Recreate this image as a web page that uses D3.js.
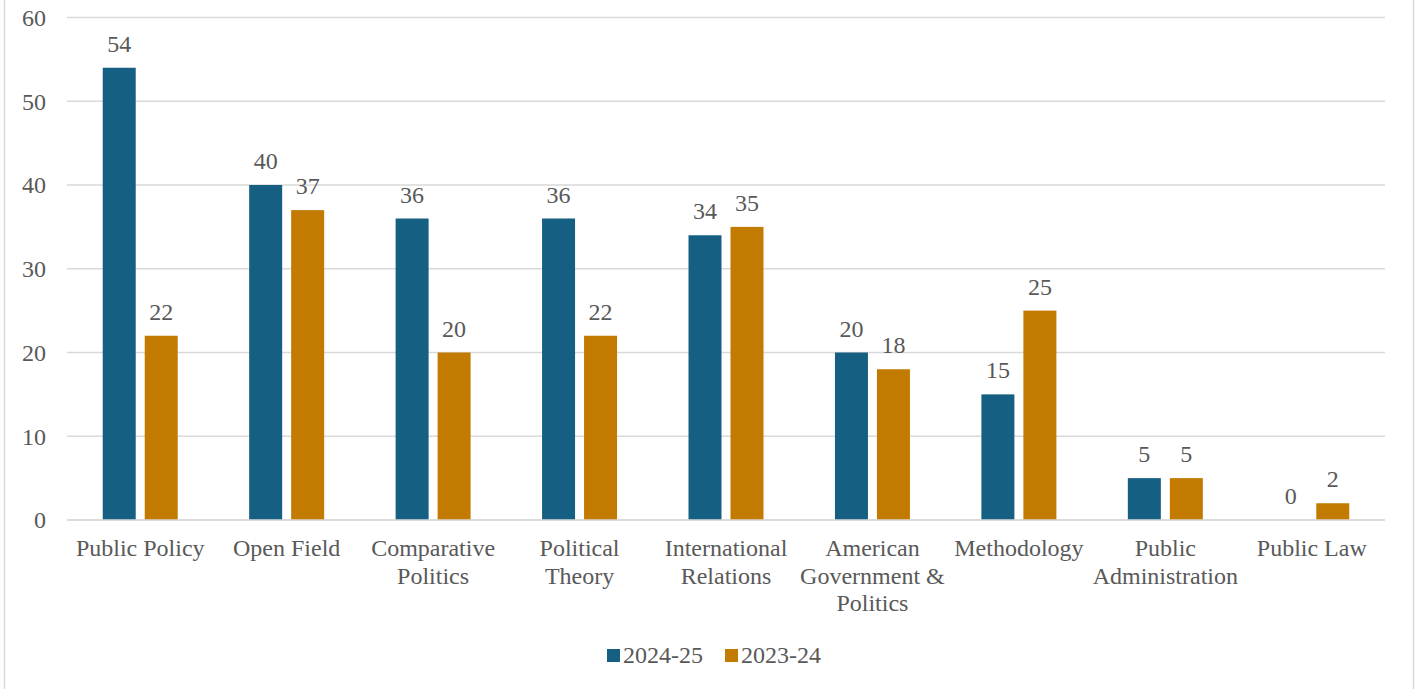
<!DOCTYPE html>
<html><head><meta charset="utf-8">
<script src="https://cdn.jsdelivr.net/npm/d3@7"></script>
</head>
<body style="margin:0;padding:0;background:#fff;"><svg id="c" width="1424" height="689" style="display:block;font-family:'Liberation Serif', Tinos, 'Times New Roman', serif;"></svg>
<script>
const categories = ["Public Policy","Open Field","Comparative\nPolitics","Political\nTheory","International\nRelations","American\nGovernment &\nPolitics","Methodology","Public\nAdministration","Public Law"];
const seriesNames = ["2024-25","2023-24"];
const values2425 = [54,40,36,36,34,20,15,5,0];
const values2324 = [22,37,20,22,35,18,25,5,2];
const yTicks = [0,10,20,30,40,50,60];
const colors = ["#156082","#C27B00"];

(function(){
const FONT = "'Liberation Serif', Tinos, 'Times New Roman', serif";
const FS = 24;
const TXT = "#595959";
const svg = d3.select("#c");
// outer frame
svg.append("rect").attr("x",4.5).attr("y",-5).attr("width",1409).attr("height",705)
  .attr("fill","none").attr("stroke","#d9d9d9").attr("stroke-width",1.5);

const pLeft = 67, pRight = 1385, pTop = 17.5, pBottom = 520;
const x = d3.scaleBand().domain(categories).range([pLeft,pRight]).paddingInner(0).paddingOuter(0);
const y = d3.scaleLinear().domain([0,60]).range([pBottom,pTop]);

// gridlines
svg.append("g").selectAll("line").data(yTicks).join("line")
  .attr("x1",pLeft).attr("x2",pRight)
  .attr("y1",d=>y(d)).attr("y2",d=>y(d))
  .attr("stroke","#d9d9d9").attr("stroke-width",1.5);

// y axis labels
const yAxis = d3.axisLeft(y).tickValues(yTicks).tickSize(0).tickPadding(21);
const ya = svg.append("g").attr("transform",`translate(${pLeft},0)`).call(yAxis)
  .attr("font-family",FONT).attr("font-size",FS);
ya.select(".domain").remove();
ya.selectAll("text").attr("dy","0.33em").attr("font-family",FONT).style("font-family",FONT).attr("fill",TXT);

const barW = 33, gap = 9;
const series = [values2425, values2324];
series.forEach((vals,si)=>{
  const g = svg.append("g").attr("font-family",FONT);
  const bx = (c)=> x(c) + x.bandwidth()/2 + (si===0 ? -gap/2 - barW : gap/2);
  g.selectAll("rect").data(categories).join("rect")
    .attr("x",c=>bx(c)).attr("width",barW)
    .attr("y",(c,i)=>y(vals[i])).attr("height",(c,i)=>y(0)-y(vals[i]))
    .attr("fill",colors[si]);
  g.selectAll("text").data(categories).join("text")
    .attr("x",c=>bx(c)+barW/2).attr("y",(c,i)=>y(vals[i])-16)
    .attr("text-anchor","middle").attr("font-size",FS)
    .attr("font-family",FONT).style("font-family",FONT).attr("fill",TXT)
    .text((c,i)=>vals[i]);
});

// x axis line
svg.append("line").attr("x1",pLeft).attr("x2",pRight).attr("y1",pBottom).attr("y2",pBottom)
  .attr("stroke","#d9d9d9").attr("stroke-width",1.5);

// category labels
const cl = svg.append("g").attr("font-family",FONT);
categories.forEach(c=>{
  const t = cl.append("text").attr("text-anchor","middle").attr("font-size",FS)
    .attr("font-family",FONT).style("font-family",FONT).attr("fill",TXT);
  c.split("\n").forEach((ln,i)=>{
    t.append("tspan").attr("x",x(c)+x.bandwidth()/2).attr("y",556+i*27.5).text(ln);
  });
});

// legend
const legX = [607,725];
seriesNames.forEach((s,i)=>{
  svg.append("rect").attr("x",legX[i]).attr("y",649).attr("width",13).attr("height",13).attr("fill",colors[i]);
  svg.append("text").attr("x",legX[i]+16).attr("y",663).attr("font-size",FS)
    .attr("font-family",FONT).style("font-family",FONT).attr("fill",TXT).text(s);
});
})();
</script></body></html>
